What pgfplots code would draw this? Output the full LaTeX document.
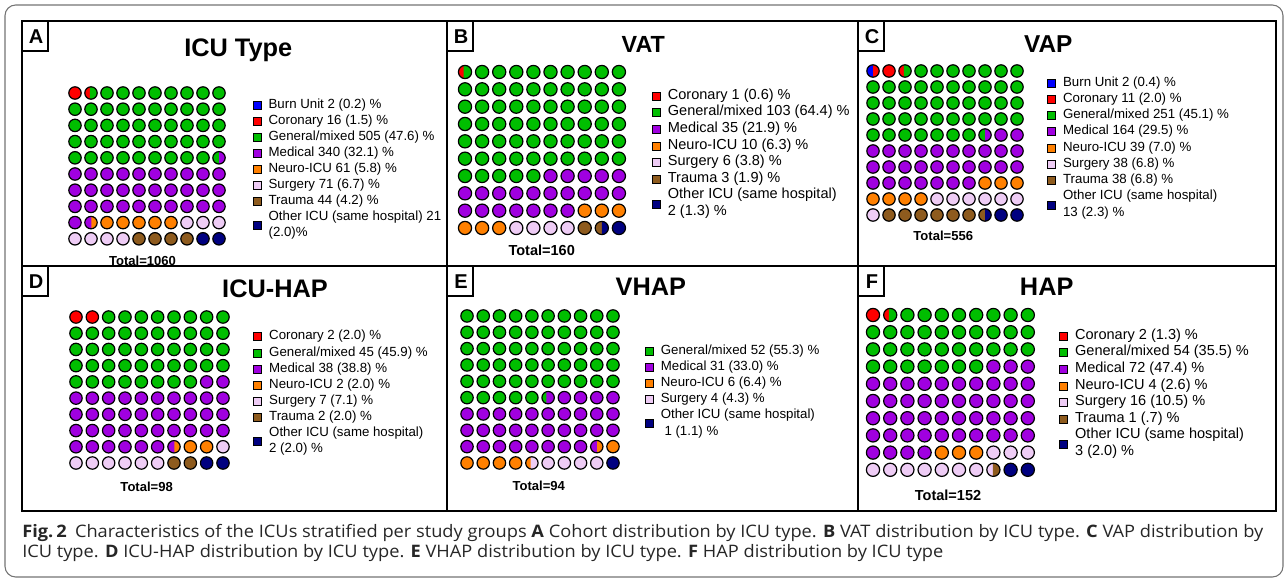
\documentclass[border=0pt]{standalone}
\usepackage{fontspec}
\setmainfont{Liberation Sans}
\newfontfamily\capfont{Open Sans}
\usepackage{graphicx}
\usepackage{pgfplots}
\usepackage{pgfplotstable}
\pgfplotsset{compat=1.18}

\definecolor{cburn}{RGB}{0,0,255}
\definecolor{ccor}{RGB}{255,0,0}
\definecolor{cgen}{RGB}{0,190,0}
\definecolor{cmed}{RGB}{160,0,224}
\definecolor{cneu}{RGB}{255,128,0}
\definecolor{csur}{RGB}{238,204,245}
\definecolor{ctra}{RGB}{142,91,30}
\definecolor{coth}{RGB}{0,0,128}

% split circle marks: name, left colour, right colour, boundary (fraction of radius)
\newcommand\defsplit[4]{%
  \pgfdeclareplotmark{#1}{%
    \pgfpathcircle{\pgfpointorigin}{\pgfplotmarksize}%
    \pgfsetfillcolor{#2}%
    \pgfusepathqfill
    \begin{pgfscope}%
      \pgfpathrectangle{\pgfpoint{#4*\pgfplotmarksize}{-2*\pgfplotmarksize}}{\pgfpoint{4*\pgfplotmarksize}{4*\pgfplotmarksize}}%
      \pgfusepathqclip
      \pgfpathcircle{\pgfpointorigin}{\pgfplotmarksize}%
      \pgfsetfillcolor{#3}%
      \pgfusepathqfill
    \end{pgfscope}%
    \pgfpathcircle{\pgfpointorigin}{\pgfplotmarksize}%
    \pgfusepathqstroke
  }}
\defsplit{rg}{ccor}{cgen}{-0.2}
\defsplit{gm}{cgen}{cmed}{0}
\defsplit{gmb}{cgen}{cmed}{-0.3}
\defsplit{mo}{cmed}{cneu}{0.05}
\defsplit{tn}{ctra}{coth}{0}
\defsplit{br}{cburn}{ccor}{0}
\defsplit{os}{cneu}{csur}{-0.2}
\defsplit{st}{csur}{ctra}{-0.1}

\newcommand\two[2]{\begin{tabular}{@{}l@{}}#1\\#2\end{tabular}}

\pgfplotsset{
  sq/.style={legend image code/.code={\fill[##1] (0pt,-3pt) rectangle (6pt,3pt);}},
  waffle/.style={only marks, scatter, scatter src=explicit symbolic, forget plot,
    draw=black, line width=0.9pt,
    scatter/classes={
      b={mark=*,fill=cburn}, r={mark=*,fill=ccor}, g={mark=*,fill=cgen},
      m={mark=*,fill=cmed}, o={mark=*,fill=cneu}, s={mark=*,fill=csur},
      t={mark=*,fill=ctra}, n={mark=*,fill=coth},
      rg={mark=rg}, gm={mark=gm}, gmb={mark=gmb}, mo={mark=mo}, tn={mark=tn},
      br={mark=br}, os={mark=os}, st={mark=st}}},
  wafax/.style={scale only axis, hide axis, xmin=0.5, xmax=10.5, ymin=0.5, ymax=10.5,
    clip=false, anchor=north west, legend cell align=left,
    legend style={draw=none, fill=none, inner sep=0pt, outer sep=0pt,
      anchor=north west, column sep=5.5pt, row sep=0pt,
      nodes={inner sep=0pt, text depth=, text height=, execute at begin node=\strut}}}
}

% waffle grids: one row of the table = one row of circles (top to bottom)
\pgfplotstableread{
row c1 c2 c3 c4 c5 c6 c7 c8 c9 c10
1 r rg g g g g g g g g
2 g g g g g g g g g g
3 g g g g g g g g g g
4 g g g g g g g g g g
5 g g g g g g g g g gm
6 m m m m m m m m m m
7 m m m m m m m m m m
8 m m m m m m m m m m
9 m mo o o o o o s s s
10 s s s s t t t t n n
}\tabA
\pgfplotstableread{
row c1 c2 c3 c4 c5 c6 c7 c8 c9 c10
1 rg g g g g g g g g g
2 g g g g g g g g g g
3 g g g g g g g g g g
4 g g g g g g g g g g
5 g g g g g g g g g g
6 g g g g g g g g g g
7 g g g g g m m m m m
8 m m m m m m m m m m
9 m m m m m m m o o o
10 o o o s s s s t tn n
}\tabB
\pgfplotstableread{
row c1 c2 c3 c4 c5 c6 c7 c8 c9 c10
1 br r rg g g g g g g g
2 g g g g g g g g g g
3 g g g g g g g g g g
4 g g g g g g g g g g
5 g g g g g g g gm m m
6 m m m m m m m m m m
7 m m m m m m m m m m
8 m m m m m m m o o o
9 o o o o s s s s s s
10 s t t t t t t tn n n
}\tabC
\pgfplotstableread{
row c1 c2 c3 c4 c5 c6 c7 c8 c9 c10
1 r r g g g g g g g g
2 g g g g g g g g g g
3 g g g g g g g g g g
4 g g g g g g g g g g
5 g g g g g g g g m m
6 m m m m m m m m m m
7 m m m m m m m m m m
8 m m m m m m m m m m
9 m m m m m m mo o o s
10 s s s s s s t t n n
}\tabD
\pgfplotstableread{
row c1 c2 c3 c4 c5 c6 c7 c8 c9 c10
1 g g g g g g g g g g
2 g g g g g g g g g g
3 g g g g g g g g g g
4 g g g g g g g g g g
5 g g g g g g g g g g
6 g g g g g gmb m m m m
7 m m m m m m m m m m
8 m m m m m m m m m m
9 m m m m m m m m mo o
10 o o o o os s s s s n
}\tabE
\pgfplotstableread{
row c1 c2 c3 c4 c5 c6 c7 c8 c9 c10
1 r rg g g g g g g g g
2 g g g g g g g g g g
3 g g g g g g g g g g
4 g g g g g g g m m m
5 m m m m m m m m m m
6 m m m m m m m m m m
7 m m m m m m m m m m
8 m m m m m m m m m m
9 m m m m o o o s s s
10 s s s s s s s st n n
}\tabF

\begin{document}
\begin{tikzpicture}
\begin{scope}[x=0.75pt,y=-0.75pt]
\useasboundingbox (0,0) rectangle (1288,581);
\end{scope}

% ---------- A ----------
\begin{axis}[wafax, at={(50.25pt,-63.675pt)}, width=120pt, height=121.5pt,
  legend style={at={(1.161,0.921)}, font=\fontsize{9.95}{12}\selectfont}]
\addlegendimage{sq, fill=cburn}\addlegendentry{Burn Unit 2 (0.2) \%}
\addlegendimage{sq, fill=ccor}\addlegendentry{Coronary 16 (1.5) \%}
\addlegendimage{sq, fill=cgen}\addlegendentry{General/mixed 505 (47.6) \%}
\addlegendimage{sq, fill=cmed}\addlegendentry{Medical 340 (32.1) \%}
\addlegendimage{sq, fill=cneu}\addlegendentry{Neuro-ICU 61 (5.8) \%}
\addlegendimage{sq, fill=csur}\addlegendentry{Surgery 71 (6.7) \%}
\addlegendimage{sq, fill=ctra}\addlegendentry{Trauma 44 (4.2) \%}
\addlegendimage{sq, fill=coth}\addlegendentry{\two{Other ICU (same hospital) 21}{(2.0)\%}}
\pgfplotsinvokeforeach{1,...,10}{
  \addplot[waffle, mark size=4.65pt] table[x expr=#1, y expr=11-\thisrow{row}, meta=c#1] {\tabA};
}
\end{axis}

% ---------- B ----------
\begin{axis}[wafax, at={(342.34pt,-47.5pt)}, width=128.25pt, height=130pt,
  legend style={at={(1.1436,0.859)}, font=\fontsize{10.9}{12.45}\selectfont}]
\addlegendimage{sq, fill=ccor}\addlegendentry{Coronary 1 (0.6) \%}
\addlegendimage{sq, fill=cgen}\addlegendentry{General/mixed 103 (64.4) \%}
\addlegendimage{sq, fill=cmed}\addlegendentry{Medical 35 (21.9) \%}
\addlegendimage{sq, fill=cneu}\addlegendentry{Neuro-ICU 10 (6.3) \%}
\addlegendimage{sq, fill=csur}\addlegendentry{Surgery 6 (3.8) \%}
\addlegendimage{sq, fill=ctra}\addlegendentry{Trauma 3 (1.9) \%}
\addlegendimage{sq, fill=coth}\addlegendentry{\two{Other ICU (same hospital)}{2 (1.3) \%}}
\pgfplotsinvokeforeach{1,...,10}{
  \addplot[waffle, mark size=4.95pt] table[x expr=#1, y expr=11-\thisrow{row}, meta=c#1] {\tabB};
}
\end{axis}

% ---------- C ----------
\begin{axis}[wafax, at={(648.75pt,-47.25pt)}, width=120pt, height=120pt,
  legend style={at={(1.139,0.927)}, font=\fontsize{9.95}{12.2}\selectfont}]
\addlegendimage{sq, fill=cburn}\addlegendentry{Burn Unit 2 (0.4) \%}
\addlegendimage{sq, fill=ccor}\addlegendentry{Coronary 11 (2.0) \%}
\addlegendimage{sq, fill=cgen}\addlegendentry{General/mixed 251 (45.1) \%}
\addlegendimage{sq, fill=cmed}\addlegendentry{Medical 164 (29.5) \%}
\addlegendimage{sq, fill=cneu}\addlegendentry{Neuro-ICU 39 (7.0) \%}
\addlegendimage{sq, fill=csur}\addlegendentry{Surgery 38 (6.8) \%}
\addlegendimage{sq, fill=ctra}\addlegendentry{Trauma 38 (6.8) \%}
\addlegendimage{sq, fill=coth}\addlegendentry{\two{Other ICU (same hospital)}{13 (2.3) \%}}
\pgfplotsinvokeforeach{1,...,10}{
  \addplot[waffle, mark size=4.65pt] table[x expr=#1, y expr=11-\thisrow{row}, meta=c#1] {\tabC};
}
\end{axis}

% ---------- D ----------
\begin{axis}[wafax, at={(50.87pt,-231.68pt)}, width=122.5pt, height=121.65pt,
  legend style={at={(1.1357,0.878)}, font=\fontsize{9.95}{12.05}\selectfont}]
\addlegendimage{sq, fill=ccor}\addlegendentry{Coronary 2 (2.0) \%}
\addlegendimage{sq, fill=cgen}\addlegendentry{General/mixed 45 (45.9) \%}
\addlegendimage{sq, fill=cmed}\addlegendentry{Medical 38 (38.8) \%}
\addlegendimage{sq, fill=cneu}\addlegendentry{Neuro-ICU 2 (2.0) \%}
\addlegendimage{sq, fill=csur}\addlegendentry{Surgery 7 (7.1) \%}
\addlegendimage{sq, fill=ctra}\addlegendentry{Trauma 2 (2.0) \%}
\addlegendimage{sq, fill=coth}\addlegendentry{\two{Other ICU (same hospital)}{2 (2.0) \%}}
\pgfplotsinvokeforeach{1,...,10}{
  \addplot[waffle, mark size=4.65pt] table[x expr=#1, y expr=11-\thisrow{row}, meta=c#1] {\tabD};
}
\end{axis}

% ---------- E ----------
\begin{axis}[wafax, at={(344.18pt,-230.85pt)}, width=121.65pt, height=122.5pt,
  legend style={at={(1.147,0.786)}, font=\fontsize{9.95}{12.15}\selectfont}]
\addlegendimage{sq, fill=cgen}\addlegendentry{General/mixed 52 (55.3) \%}
\addlegendimage{sq, fill=cmed}\addlegendentry{Medical 31 (33.0) \%}
\addlegendimage{sq, fill=cneu}\addlegendentry{Neuro-ICU 6 (6.4) \%}
\addlegendimage{sq, fill=csur}\addlegendentry{Surgery 4 (4.3) \%}
\addlegendimage{sq, fill=coth}\addlegendentry{\two{Other ICU (same hospital)}{\ 1 (1.1) \%}}
\pgfplotsinvokeforeach{1,...,10}{
  \addplot[waffle, mark size=4.65pt] table[x expr=#1, y expr=11-\thisrow{row}, meta=c#1] {\tabE};
}
\end{axis}

% ---------- F ----------
\begin{axis}[wafax, at={(648.3pt,-229.8pt)}, width=129pt, height=129pt,
  legend style={at={(1.133,0.876)}, font=\fontsize{10.9}{12.45}\selectfont}]
\addlegendimage{sq, fill=ccor}\addlegendentry{Coronary 2 (1.3) \%}
\addlegendimage{sq, fill=cgen}\addlegendentry{General/mixed 54 (35.5) \%}
\addlegendimage{sq, fill=cmed}\addlegendentry{Medical 72 (47.4) \%}
\addlegendimage{sq, fill=cneu}\addlegendentry{Neuro-ICU 4 (2.6) \%}
\addlegendimage{sq, fill=csur}\addlegendentry{Surgery 16 (10.5) \%}
\addlegendimage{sq, fill=ctra}\addlegendentry{Trauma 1 (.7) \%}
\addlegendimage{sq, fill=coth}\addlegendentry{\two{Other ICU (same hospital)}{3 (2.0) \%}}
\pgfplotsinvokeforeach{1,...,10}{
  \addplot[waffle, mark size=4.95pt] table[x expr=#1, y expr=11-\thisrow{row}, meta=c#1] {\tabF};
}
\end{axis}

% ---------- frames, titles, captions ----------
\begin{scope}[x=0.75pt,y=-0.75pt]
\draw[black!55, line width=0.8pt, rounded corners=8pt] (5,5) rectangle (1283,577);
\draw[line width=1.6pt] (22,21) rectangle (1276,511);
\draw[line width=1.6pt] (447,21) -- (447,511) (858,21) -- (858,511) (22,266) -- (1276,266);
\foreach \x/\y/\l in {22/21/A,447/21/B,858/21/C,22/266/D,447/266/E,858/266/F}{
  \draw[line width=1.4pt, fill=white] (\x,\y) rectangle ++(26,30);
  \node[anchor=base, inner sep=0pt] at (\x+14,\y+22.4) {\fontsize{15}{15}\selectfont\bfseries \l};
}
\node[anchor=base, inner sep=0pt] at (238.3,57) {\fontsize{19}{19}\selectfont\bfseries ICU Type};
\node[anchor=base, inner sep=0pt] at (643.3,53) {\fontsize{17.5}{17.5}\selectfont\bfseries VAT};
\node[anchor=base, inner sep=0pt] at (1048.3,53) {\fontsize{18.3}{18.3}\selectfont\bfseries VAP};
\node[anchor=base, inner sep=0pt] at (275,297) {\fontsize{19}{19}\selectfont\bfseries ICU-HAP};
\node[anchor=base, inner sep=0pt] at (650.8,295) {\fontsize{19}{19}\selectfont\bfseries VHAP};
\node[anchor=base, inner sep=0pt] at (1046.7,295) {\fontsize{19}{19}\selectfont\bfseries HAP};

\node[anchor=base, inner sep=0pt] at (142.5,265) {\fontsize{9.8}{10}\selectfont\bfseries Total=1060};
\node[anchor=base, inner sep=0pt] at (541.7,255) {\fontsize{10.9}{11}\selectfont\bfseries Total=160};
\node[anchor=base, inner sep=0pt] at (943.3,240) {\fontsize{9.8}{10}\selectfont\bfseries Total=556};
\node[anchor=base, inner sep=0pt] at (146.7,491.7) {\fontsize{9.8}{10}\selectfont\bfseries Total=98};
\node[anchor=base, inner sep=0pt] at (538.8,490.7) {\fontsize{9.8}{10}\selectfont\bfseries Total=94};
\node[anchor=base, inner sep=0pt] at (948,500.7) {\fontsize{10.9}{11}\selectfont\bfseries Total=152};

\node[anchor=base west, inner sep=0pt] at (22,537.3) {\resizebox{930.75pt}{\height}{%
  \capfont\fontsize{12.9}{15}\selectfont\color{black!85}%
  \begin{tabular}[t]{@{}l@{}}
  \textbf{Fig.\,2}\hspace{0.45em}Characteristics of the ICUs stratified per study groups \textbf{A} Cohort distribution by ICU type. \textbf{B} VAT distribution by ICU type. \textbf{C} VAP distribution by\\
  ICU type. \textbf{D} ICU-HAP distribution by ICU type. \textbf{E} VHAP distribution by ICU type. \textbf{F} HAP distribution by ICU type
  \end{tabular}}};
\end{scope}
\end{tikzpicture}
\end{document}
